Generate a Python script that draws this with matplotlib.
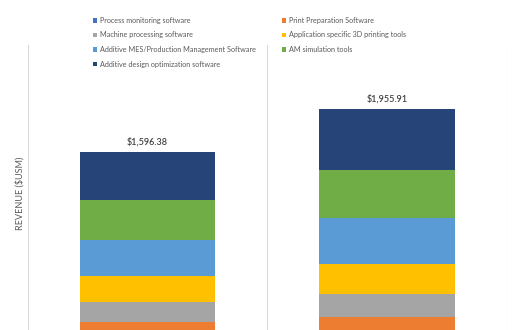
import matplotlib
matplotlib.use("Agg")
import matplotlib.pyplot as plt
from matplotlib.patches import Patch
import numpy as np

plt.rcParams['font.family'] = ['Lato', 'DejaVu Sans']

categories = ["2021", "2026"]
series_names = [
    "Process monitoring software",
    "Print Preparation Software",
    "Machine processing software",
    "Application specific 3D printing tools",
    "Additive MES/Production Management Software",
    "AM simulation tools",
    "Additive design optimization software",
]
series_colors = ["#4472C4", "#ED7D31", "#A5A5A5", "#FFC000", "#5B9BD5", "#70AD47", "#264478"]
values = [
    [42.38, 52.61],    # Process monitoring
    [120.0, 149.0],    # Print Preparation
    [168.0, 197.0],    # Machine processing
    [216.0, 249.0],    # Application specific
    [309.0, 393.0],    # Additive MES
    [331.0, 406.7],    # AM simulation
    [410.0, 508.6],    # Additive design optimization
]
totals_labels = ["$1,596.38", "$1,955.91"]

fig = plt.figure(figsize=(5.2, 3.3), dpi=100)
ax = fig.add_axes([27.7/520, 1-340.9/330, 479/520, (340.9-45)/330])

x = np.arange(len(categories))
bottom = np.zeros(len(categories))
handles = []
for name, col, vals in zip(series_names, series_colors, values):
    ax.bar(x, vals, width=0.565, bottom=bottom, color=col, edgecolor='none', label=name)
    bottom += np.array(vals)
    handles.append(Patch(facecolor=col, edgecolor='none', label=name))

for xi, tot, lab in zip(x, bottom, totals_labels):
    ax.text(xi, tot + 45, lab, ha='center', va='bottom', fontsize=6.5,
            color='#404040', fontweight='semibold')

ax.set_xlim(-0.5, 1.5)
ax.set_ylim(0, 2500)
for s in ax.spines.values():
    s.set_visible(False)
ax.set_yticks([])
ax.set_xticks(x)
ax.set_xticklabels(categories)
ax.tick_params(axis='x', length=0, labelbottom=False)
for xv in [-0.5, 0.5, 1.5]:
    ax.axvline(xv, color='#D9D9D9', lw=0.8, zorder=0)
ax.set_ylabel("REVENUE ($USM)", fontsize=6.5, color='#595959', labelpad=2)

order = [0, 2, 4, 6, 1, 3, 5]
leg = fig.legend([handles[i] for i in order], [series_names[i] for i in order],
                 ncol=2, loc='upper left', bbox_to_anchor=(90/520, 1-14/330),
                 frameon=False, fontsize=5.2, labelcolor='#595959',
                 handlelength=0.6, handleheight=0.6, handletextpad=0.4,
                 columnspacing=3.6, labelspacing=1.05, borderaxespad=0)

fig.savefig("out.png", dpi=100)
